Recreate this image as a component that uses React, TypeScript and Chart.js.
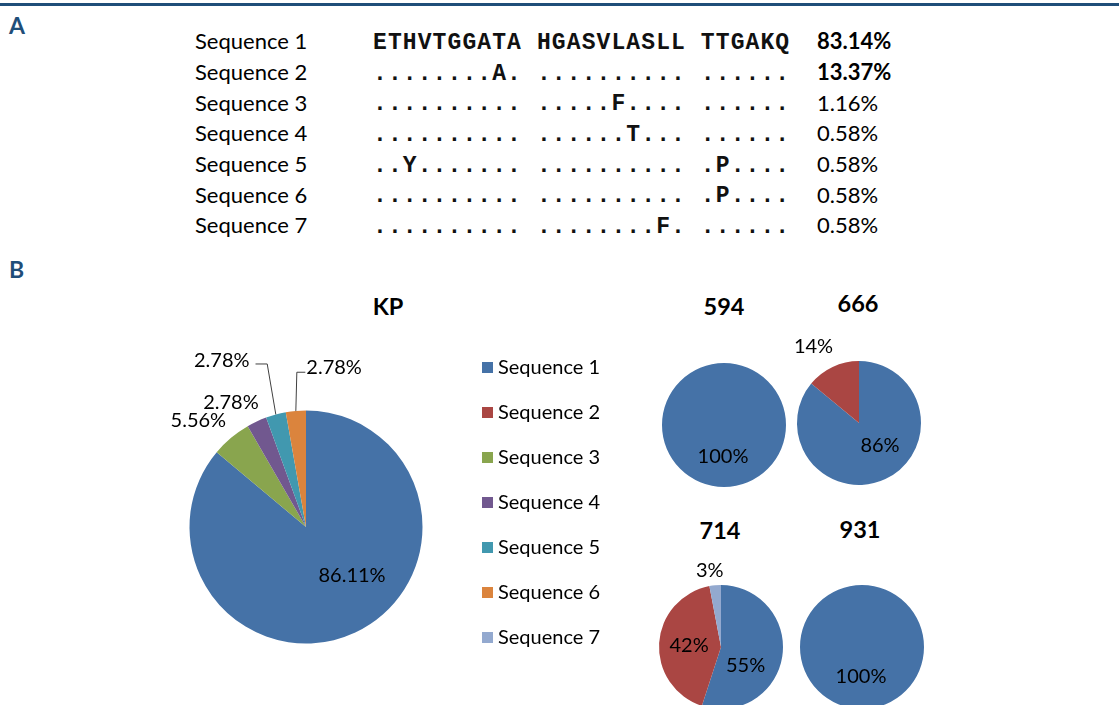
import React, { useEffect, useRef } from "react";
import { Chart, ArcElement, PieController } from "chart.js";

Chart.register(ArcElement, PieController);

// ---------- data ----------
const sequenceNames = ["Sequence 1", "Sequence 2", "Sequence 3", "Sequence 4", "Sequence 5", "Sequence 6", "Sequence 7"];
const alignments = [
  "ETHVTGGATA HGASVLASLL TTGAKQ",
  "........A. .......... ......",
  ".......... .....F.... ......",
  ".......... ......T... ......",
  "..Y....... .......... .P....",
  ".......... .......... .P....",
  ".......... ........F. ......",
];
const frequencies = ["83.14%", "13.37%", "1.16%", "0.58%", "0.58%", "0.58%", "0.58%"];
const frequencyBold = [true, true, false, false, false, false, false];
const seqColors = ["#4572A7", "#AA4643", "#89A54E", "#71588F", "#4198AF", "#DB843D", "#93A9CF"];

const kpTitle = "KP";
const kpValues = [86.11, 0, 5.56, 2.78, 2.78, 2.78, 0];
const sampleTitles = ["594", "666", "714", "931"];
const values594 = [100, 0, 0, 0, 0, 0, 0];
const values666 = [86, 14, 0, 0, 0, 0, 0];
const values714 = [55, 42, 0, 0, 0, 0, 3];
const values931 = [100, 0, 0, 0, 0, 0, 0];

// ---------- style ----------
const SANS = "Lato, 'Open Sans', sans-serif";
const MONO = "'Liberation Mono', 'DejaVu Sans Mono', monospace";
const NAVY = "#1F4E79";
const LABEL_PX = 20;

type LabelItem = {
  r: number;
  dx?: number;
  dy?: number;
  align?: CanvasTextAlign;
  leader?: { elbow: number; gap: number; dy: number };
};

const sliceLabelPlugin = {
  id: "sliceLabels",
  afterDatasetsDraw(chart: any, _args: any, opts: any) {
    const items: Record<number, LabelItem> = opts.items || {};
    const ctx: CanvasRenderingContext2D = chart.ctx;
    const meta = chart.getDatasetMeta(0);
    const data = chart.data.datasets[0].data as number[];
    ctx.save();
    ctx.font = `${opts.size}px ${SANS}`;
    ctx.fillStyle = "#000";
    ctx.textBaseline = "alphabetic";
    meta.data.forEach((arc: any, i: number) => {
      const it = items[i];
      const v = data[i];
      if (!it || !v) return;
      const p = arc.getProps(["x", "y", "startAngle", "endAngle", "outerRadius"], true);
      const mid = (p.startAngle + p.endAngle) / 2;
      const ax = p.x + Math.cos(mid) * p.outerRadius * it.r + (it.dx || 0);
      const ay = p.y + Math.sin(mid) * p.outerRadius * it.r + (it.dy || 0);
      if (it.leader) {
        const ex = p.x + Math.cos(mid) * p.outerRadius;
        const ey = p.y + Math.sin(mid) * p.outerRadius;
        ctx.beginPath();
        ctx.moveTo(ex, ey);
        ctx.lineTo(ax + it.leader.elbow, ay + it.leader.dy);
        ctx.lineTo(ax + it.leader.gap, ay + it.leader.dy);
        ctx.strokeStyle = "#404040";
        ctx.lineWidth = 1;
        ctx.stroke();
      }
      ctx.textAlign = it.align || "center";
      ctx.fillText(v.toFixed(opts.decimals) + "%", ax, ay + opts.size * 0.358);
    });
    ctx.restore();
  },
};

function PieCanvas(props: {
  values: number[];
  cx: number;
  cy: number;
  radius: number;
  w: number;
  h: number;
  items: Record<number, LabelItem>;
  decimals: number;
}) {
  const ref = useRef<HTMLCanvasElement>(null);
  useEffect(() => {
    const chart = new Chart(ref.current as HTMLCanvasElement, {
      type: "pie",
      data: {
        labels: sequenceNames,
        datasets: [
          {
            data: props.values,
            backgroundColor: seqColors,
            borderWidth: 0,
            radius: props.radius,
          } as any,
        ],
      },
      options: {
        responsive: false,
        animation: false,
        events: [],
        radius: props.radius,
        layout: { padding: 0 },
        plugins: {
          legend: { display: false },
          tooltip: { enabled: false },
          sliceLabels: { items: props.items, decimals: props.decimals, size: LABEL_PX },
        } as any,
      } as any,
      plugins: [sliceLabelPlugin as any],
    });
    return () => chart.destroy();
  }, []);
  return (
    <canvas
      ref={ref}
      width={props.w}
      height={props.h}
      style={{
        position: "absolute",
        left: props.cx - props.w / 2,
        top: props.cy - props.h / 2,
        width: props.w,
        height: props.h,
      }}
    />
  );
}

function T(props: {
  x: number;
  y: number;
  size: number;
  text: string;
  bold?: boolean;
  align?: "left" | "center";
  color?: string;
  font?: string;
  capMid?: number;
  spacing?: number;
}) {
  const capMid = props.capMid ?? 0.529;
  return (
    <div
      style={{
        position: "absolute",
        left: props.x,
        top: props.y - capMid * props.size,
        fontFamily: props.font || SANS,
        fontSize: props.size,
        lineHeight: 1,
        fontWeight: props.bold ? 700 : 400,
        color: props.color || "#000",
        whiteSpace: "pre",
        letterSpacing: props.spacing ?? 0,
        transform: props.align === "center" ? "translateX(-50%)" : undefined,
      }}
    >
      {props.text}
    </div>
  );
}

export default function App() {
  const rowY = (i: number) => 42 + 30.67 * i;
  const legendY = (i: number) => 367 + 45 * i;

  const kpItems: Record<number, LabelItem> = {
    0: { r: 0.5, dx: 21.4, dy: -4.8 },
    2: { r: 1.25, dx: -14, dy: 4 },
    3: { r: 1.25, dx: -13.5, dy: 7 },
    4: { r: 1, dx: -26.3, dy: -54.5, align: "right", leader: { elbow: 17.7, gap: 6, dy: 4 } },
    5: { r: 1, dx: 10.5, dy: -43.7, align: "left", leader: { elbow: -9.5, gap: -1, dy: 5 } },
  };

  return (
    <div
      style={{
        position: "absolute",
        left: 0,
        top: 0,
        width: 1119,
        height: 705,
        overflow: "hidden",
        background: "#fff",
      }}
    >
      <div style={{ position: "absolute", left: 0, top: 3, width: 1119, height: 3, background: NAVY }} />
      <T x={9} y={26.5} size={23} text="A" bold color={NAVY} />
      <T x={9} y={270} size={23} text="B" bold color={NAVY} />

      {sequenceNames.map((n, i) => (
        <T key={"n" + i} x={195} y={rowY(i)} size={22} text={n} />
      ))}
      {alignments.map((s, i) => (
        <T key={"s" + i} x={373} y={rowY(i)} size={23} text={s} font={MONO} bold capMid={0.436} spacing={1.1} color="#111" />
      ))}
      {frequencies.map((f, i) => (
        <T key={"f" + i} x={817} y={rowY(i)} size={22} text={f} bold={frequencyBold[i]} />
      ))}

      <T x={388} y={307} size={23.5} text={kpTitle} bold align="center" />
      <PieCanvas values={kpValues} cx={305.5} cy={526.5} radius={116.5} w={400} h={400} items={kpItems} decimals={2} />

      {sequenceNames.map((n, i) => (
        <React.Fragment key={"l" + i}>
          <div
            style={{
              position: "absolute",
              left: 482,
              top: legendY(i) - 5.5,
              width: 11,
              height: 11,
              background: seqColors[i],
            }}
          />
          <T x={498} y={legendY(i)} size={20} text={n} />
        </React.Fragment>
      ))}

      <T x={724} y={307} size={23.5} text={sampleTitles[0]} bold align="center" />
      <T x={858} y={304} size={23.5} text={sampleTitles[1]} bold align="center" />
      <T x={720} y={531} size={23.5} text={sampleTitles[2]} bold align="center" />
      <T x={860} y={530} size={23.5} text={sampleTitles[3]} bold align="center" />

      <PieCanvas values={values594} cx={724} cy={424.5} radius={62} w={200} h={200} items={{ 0: { r: 0.5, dx: -1 } }} decimals={0} />
      <PieCanvas
        values={values666}
        cx={859}
        cy={422.5}
        radius={62}
        w={200}
        h={200}
        items={{ 0: { r: 0.5, dx: 7.8, dy: -6 }, 1: { r: 1.25, dx: -12.5, dy: -7.4 } }}
        decimals={0}
      />
      <PieCanvas
        values={values714}
        cx={721}
        cy={647}
        radius={62}
        w={200}
        h={200}
        items={{ 0: { r: 0.5, dx: -6, dy: 12.7 }, 1: { r: 0.5, dx: -1, dy: 0 }, 6: { r: 1.25, dx: -4, dy: 0 } }}
        decimals={0}
      />
      <PieCanvas values={values931} cx={862} cy={647} radius={62} w={200} h={200} items={{ 0: { r: 0.47, dx: -1 } }} decimals={0} />
    </div>
  );
}
